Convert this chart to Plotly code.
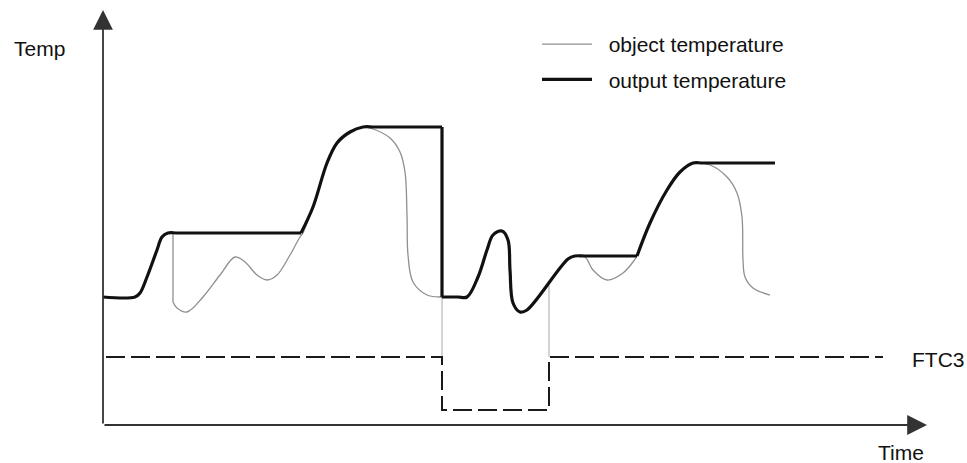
import plotly.graph_objects as go

# ---- data (time, temperature) in arbitrary units; origin at the axes corner ----
# output temperature, with indices of the sharp corners of the trace
out_time = [0, 32, 37, 44, 54, 59, 65, 75, 198, 210, 224, 234, 247, 260, 272, 339,
            339, 355, 364, 375, 384, 390, 399, 405, 407, 410, 417, 424, 465, 472, 482,
            534, 547, 564, 577, 590, 600, 672]
out_temp = [128, 128, 132, 148, 175, 188, 192, 192, 192, 218, 262, 282, 293, 298, 298, 298,
            128, 128, 128, 148, 175, 190, 194, 185, 155, 122, 113, 115, 166, 169, 169,
            169, 202, 235, 253, 262, 262, 262]
out_corners = [8, 15, 16, 31]

# object temperature
obj_time = [0, 32, 37, 44, 54, 59, 65, 70,
            70, 74, 84, 100, 117, 132, 142, 154, 164, 174, 187, 197, 200,
            210, 224, 234, 247, 260, 267, 287, 297, 302, 304, 305, 310, 324, 337, 339,
            355, 364, 375, 384, 390, 399, 405, 407, 410, 417, 424, 465, 472,
            482, 490, 504, 520, 530, 534,
            547, 564, 577, 590, 607, 624, 634, 639, 640, 642, 650, 667]
obj_temp = [128, 128, 132, 148, 175, 188, 192, 192,
            123, 117, 113, 128, 150, 168, 163, 150, 145, 150, 170, 188, 192,
            218, 262, 282, 293, 298, 297, 287, 273, 253, 210, 170, 143, 130, 128, 128,
            128, 128, 148, 175, 190, 194, 185, 155, 122, 113, 115, 166, 169,
            168, 155, 145, 152, 163, 169,
            202, 235, 253, 262, 260, 248, 232, 208, 165, 148, 137, 130]
obj_corners = [7, 8, 20, 54]

# FTC3 switching signal
ftc_time = [3, 339, 339, 446, 446, 780]
ftc_level = [68, 68, 15, 15, 68, 68]

# switching instants marked by thin guides
event_time = [339, 446]
event_top = [128, 140]

X_RANGE = [-103, 864]
Y_RANGE = [-38, 425]
FONT = "Liberation Sans, Arial, sans-serif"
FONT_SIZE = 21
PAD = "\u00a0\u00a0"


def pieces(ts, vs, corners):
    """Split a polyline at its sharp corners so each piece can be smoothed alone."""
    cuts = [0] + list(corners) + [len(ts) - 1]
    out = []
    for a, b in zip(cuts[:-1], cuts[1:]):
        if b > a:
            out.append((ts[a:b + 1], vs[a:b + 1]))
    return out


fig = go.Figure()

# thin guides at the switching instants
for t, top in zip(event_time, event_top):
    fig.add_trace(go.Scatter(x=[t, t], y=[top, ftc_level[0]], mode="lines",
                             line=dict(color="#a8a8a8", width=1),
                             showlegend=False, hoverinfo="skip"))

# FTC3 dashed signal
fig.add_trace(go.Scatter(x=ftc_time, y=ftc_level, mode="lines",
                         line=dict(color="#1a1a1a", width=2, dash="19px,6px"),
                         showlegend=False, hoverinfo="skip"))

for i, (ts, vs) in enumerate(pieces(obj_time, obj_temp, obj_corners)):
    fig.add_trace(go.Scatter(x=ts, y=vs, mode="lines",
                             line=dict(color="#8f8f8f", width=1.3, shape="spline", smoothing=1.0),
                             name=PAD + "object temperature", legendgroup="obj",
                             showlegend=(i == 0), hoverinfo="skip"))

for i, (ts, vs) in enumerate(pieces(out_time, out_temp, out_corners)):
    fig.add_trace(go.Scatter(x=ts, y=vs, mode="lines",
                             line=dict(color="#111111", width=3.2, shape="spline", smoothing=1.0),
                             name=PAD + "output temperature", legendgroup="out",
                             showlegend=(i == 0), hoverinfo="skip"))

# axes drawn as arrows from the origin
axis_color = "#333333"
arrow = dict(xref="x", yref="y", axref="x", ayref="y", showarrow=True,
             arrowhead=2, arrowsize=2.2, arrowwidth=1.8, arrowcolor=axis_color, text="")
label_font = dict(family=FONT, size=FONT_SIZE, color="#111")
annotations = [
    dict(arrow, x=824, y=0, ax=0, ay=0),
    dict(arrow, x=0, y=415, ax=0, ay=0),
    dict(x=-64, y=377, xref="x", yref="y", text="Temp", showarrow=False, font=label_font),
    dict(x=798, y=-27, xref="x", yref="y", text="Time", showarrow=False, font=label_font),
    dict(x=807, y=66, xref="x", yref="y", text="FTC3", showarrow=False,
         xanchor="left", font=label_font),
]

fig.update_layout(
    width=967, height=463,
    margin=dict(l=0, r=0, t=0, b=0),
    paper_bgcolor="white", plot_bgcolor="white",
    xaxis=dict(range=X_RANGE, visible=False, fixedrange=True),
    yaxis=dict(range=Y_RANGE, visible=False, fixedrange=True),
    annotations=annotations,
    legend=dict(x=537 / 967, y=1 - 24 / 463, xanchor="left", yanchor="top",
                bgcolor="rgba(0,0,0,0)", font=label_font,
                itemwidth=50, tracegroupgap=5),
    showlegend=True,
)

fig.write_html("out.html")
